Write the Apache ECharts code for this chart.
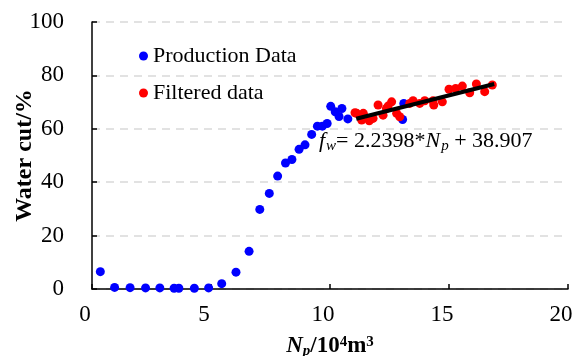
<!DOCTYPE html>
<html>
<head>
<meta charset="utf-8">
<script src="https://cdn.jsdelivr.net/npm/echarts@6/dist/echarts.min.js"></script>
<style>
  html, body { margin: 0; padding: 0; background: #fff; }
  #main { width: 582px; height: 356px; }
</style>
</head>
<body>
<div id="main"></div>
<script>
// production data (blue) as [Np, water cut]
const productionData = [
  [0.35, 6.5], [0.95, 0.6], [1.6, 0.5], [2.25, 0.4], [2.85, 0.4], [3.45, 0.3], [3.65, 0.3],
  [4.3, 0.3], [4.9, 0.4], [5.45, 2.0], [6.05, 6.3], [6.6, 14.1], [7.05, 29.8], [7.45, 35.8],
  [7.8, 42.3], [8.13, 47.2], [8.4, 48.5], [8.7, 52.3], [8.95, 54.0], [9.23, 57.9], [9.47, 61.0],
  [9.68, 61.0], [9.88, 62.0], [10.03, 68.4], [10.22, 66.4], [10.5, 67.6], [10.38, 64.6],
  [10.75, 63.7], [13.1, 69.5], [13.05, 63.5]
];
// filtered data (red)
const filteredData = [
  [11.05, 66.0], [11.12, 65.8], [11.4, 65.8], [11.33, 63.3], [11.65, 63.0], [11.81, 63.9],
  [12.02, 68.9], [12.23, 65.1], [12.37, 67.6], [12.44, 68.5], [12.59, 70.1], [12.8, 65.8],
  [12.93, 64.5], [13.35, 69.5], [13.49, 70.5], [13.77, 69.5], [13.98, 70.5], [14.33, 70.5],
  [14.36, 68.9], [14.72, 70.1], [15.0, 74.8], [15.28, 75.1], [15.56, 76.0], [15.87, 73.5],
  [16.15, 76.8], [16.5, 73.9], [16.82, 76.4]
];
// fitted line end points
const fitLine = [[11.1, 63.77], [16.9, 76.76]];

const xTicks = { min: 0, max: 20, interval: 5 };
const yTicks = { min: 0, max: 100, interval: 20 };

const serif = '"Liberation Serif", "Times New Roman", serif';

const chart = echarts.init(document.getElementById('main'), null, { renderer: 'canvas' });

const axisLine = { show: true, onZero: false, lineStyle: { color: '#000', width: 1.5 } };
const axisTick = { show: true, inside: true, length: 5, lineStyle: { color: '#000', width: 1.5 } };

chart.setOption({
  backgroundColor: '#fff',
  animation: false,
  grid: { left: 92, right: 14, top: 22, bottom: 67, containLabel: false, outerBoundsMode: 'none' },
  legend: {
    orient: 'vertical',
    left: 134,
    top: 40,
    icon: 'circle',
    itemWidth: 9,
    itemHeight: 9,
    itemGap: 15,
    data: ['Production Data', 'Filtered data'],
    textStyle: { fontFamily: serif, fontSize: 22, color: '#000', lineHeight: 22 }
  },
  xAxis: {
    type: 'value',
    min: xTicks.min, max: xTicks.max, interval: xTicks.interval,
    axisLine, axisTick,
    splitLine: { show: false },
    axisLabel: { fontFamily: serif, fontSize: 23, color: '#000', margin: 14, padding: [0, 14, 0, 0] },
    name: '{bi|N}{sub|p}{b|/10}{sup|4}{b|m}{sup|3}',
    nameLocation: 'middle',
    nameGap: 45,
    nameMoveOverlap: false,
    nameTextStyle: {
      rich: {
        bi: { fontFamily: serif, fontSize: 23, fontWeight: 'bold', fontStyle: 'italic', color: '#000' },
        b: { fontFamily: serif, fontSize: 23, fontWeight: 'bold', color: '#000' },
        sub: { fontFamily: serif, fontSize: 15, fontWeight: 'bold', fontStyle: 'italic', color: '#000', padding: [10, 0, 0, 0] },
        sup: { fontFamily: serif, fontSize: 15, fontWeight: 'bold', color: '#000', padding: [0, 0, 9, 0] }
      }
    }
  },
  yAxis: {
    type: 'value',
    min: yTicks.min, max: yTicks.max, interval: yTicks.interval,
    axisLine, axisTick,
    splitLine: { show: true, lineStyle: { color: '#d9d9d9', type: [8, 6], width: 1.5 } },
    axisLabel: { fontFamily: serif, fontSize: 23, color: '#000', margin: 28 },
    name: 'Water cut/%',
    nameLocation: 'middle',
    nameRotate: 90,
    nameGap: 55,
    nameMoveOverlap: false,
    nameTextStyle: { fontFamily: serif, fontSize: 24, fontWeight: 'bold', color: '#000' }
  },
  graphic: [{
    type: 'text',
    left: 319,
    top: 130,
    style: {
      text: '{i|f}{isub|w}{n|= 2.2398*}{i|N}{isub|p}{n| + 38.907}',
      rich: {
        i: { fontFamily: serif, fontSize: 22, fontStyle: 'italic', fill: '#000' },
        n: { fontFamily: serif, fontSize: 22, fill: '#000' },
        isub: { fontFamily: serif, fontSize: 15, fontStyle: 'italic', fill: '#000', padding: [10, 0, 0, 1] }
      }
    }
  }],
  series: [
    {
      name: 'Production Data',
      type: 'scatter',
      symbolSize: 9,
      itemStyle: { color: '#0000ff', opacity: 1 },
      data: productionData,
      z: 2
    },
    {
      name: 'Filtered data',
      type: 'scatter',
      symbolSize: 9,
      itemStyle: { color: '#ff0000', opacity: 1 },
      data: filteredData,
      z: 3
    },
    {
      name: 'Fit',
      type: 'line',
      showSymbol: false,
      symbol: 'none',
      lineStyle: { color: '#000', width: 4 },
      data: fitLine,
      z: 4
    }
  ]
});
</script>
</body>
</html>
